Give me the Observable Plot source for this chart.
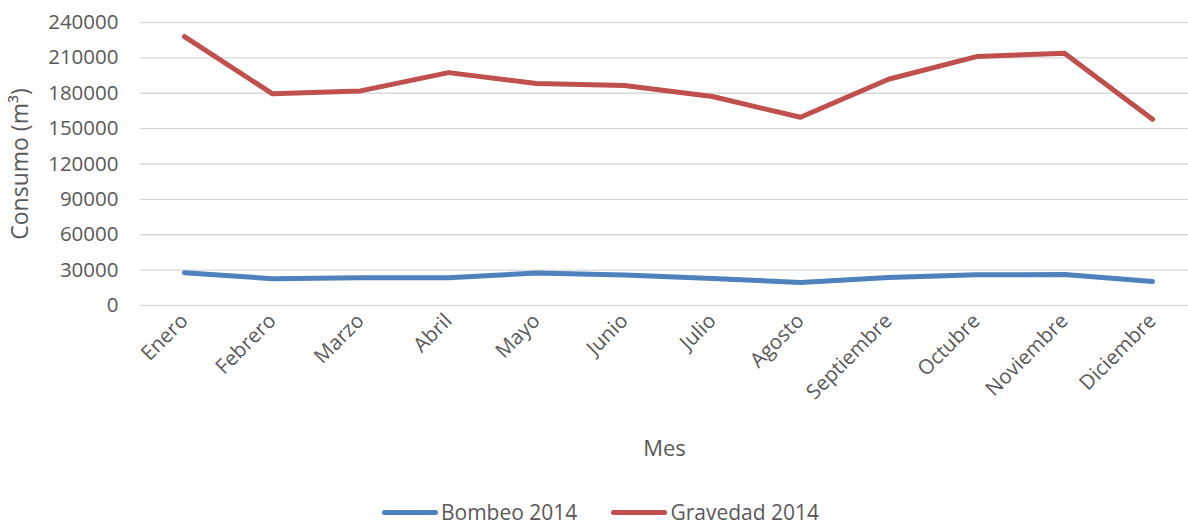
<!DOCTYPE html>
<html>
<head>
<meta charset="utf-8">
<script src="https://cdn.jsdelivr.net/npm/d3@7"></script>
<script src="https://cdn.jsdelivr.net/npm/@observablehq/plot@0.6"></script>
<style>
  body { margin: 0; background: #fff; font-family: "Open Sans", sans-serif; }
  #chart svg { display: block; }
  #chart svg [aria-label="x-axis label"] text { font-size: 22px; }
  #chart svg [aria-label="y-axis label"] text { font-size: 23px; }
  .legend { position: relative; height: 27px; color: #595959; font-size: 21px; line-height: 20px; }
  .legend .inner { position: absolute; left: 0; right: 0; top: 2px; height: 20px; display: flex;
                   justify-content: center; align-items: center; padding-left: 13px; }
  .legend .item { display: flex; align-items: center; margin: 0 17px; height: 20px; }
  .legend .swatch { width: 56px; height: 5px; border-radius: 3px; margin-right: 3px; }
</style>
</head>
<body>
<div id="chart"></div>
<div class="legend"><div class="inner" id="legend"></div></div>
<script>
// Monthly water consumption (m³), 2014
const meses = ["Enero", "Febrero", "Marzo", "Abril", "Mayo", "Junio", "Julio",
               "Agosto", "Septiembre", "Octubre", "Noviembre", "Diciembre"];
const bombeo = [27800, 22700, 23500, 23500, 27500, 25800, 23000, 19500, 23800, 26000, 26300, 20400];
const gravedad = [228000, 179500, 182000, 197500, 188200, 186500, 177200, 159600, 191900, 211100, 213900, 157900];
const seriesNames = ["Bombeo 2014", "Gravedad 2014"];
const seriesColors = ["#4f81bd", "#c0504d"];
const yTicks = [0, 30000, 60000, 90000, 120000, 150000, 180000, 210000, 240000];

const rows = [
  ...meses.map((mes, i) => ({mes, serie: seriesNames[0], valor: bombeo[i]})),
  ...meses.map((mes, i) => ({mes, serie: seriesNames[1], valor: gravedad[i]}))
];

const chart = Plot.plot({
  width: 1188,
  height: 500,
  marginLeft: 140,
  marginRight: 0,
  marginTop: 22,
  marginBottom: 195,
  style: {fontFamily: "Open Sans", fontSize: "20.5px", color: "#595959", background: "#fff"},
  x: {type: "point", domain: meses, padding: 0.5, insetRight: -8},
  y: {domain: [0, 240000]},
  color: {domain: seriesNames, range: seriesColors},
  marks: [
    Plot.gridY(yTicks, {stroke: "#d9d9d9", strokeOpacity: 1, strokeWidth: 1.4}),
    Plot.axisY(yTicks, {tickSize: 0, tickPadding: 22, tickFormat: d => String(d),
      label: "Consumo (m³)", labelArrow: "none", labelAnchor: "center", labelOffset: 129}),
    Plot.axisX({tickSize: 0, tickPadding: 12, tickRotate: -45,
      label: "Mes", labelArrow: "none", labelAnchor: "center", labelOffset: 150}),
    Plot.line(rows, {x: "mes", y: "valor", z: "serie", stroke: "serie",
      strokeWidth: 5, strokeLinecap: "round", strokeLinejoin: "round"})
  ]
});
document.getElementById("chart").append(chart);

const legend = document.getElementById("legend");
seriesNames.forEach((name, i) => {
  const item = document.createElement("div");
  item.className = "item";
  const sw = document.createElement("span");
  sw.className = "swatch";
  sw.style.background = seriesColors[i];
  const label = document.createElement("span");
  label.textContent = name;
  item.append(sw, label);
  legend.append(item);
});
</script>
</body>
</html>
